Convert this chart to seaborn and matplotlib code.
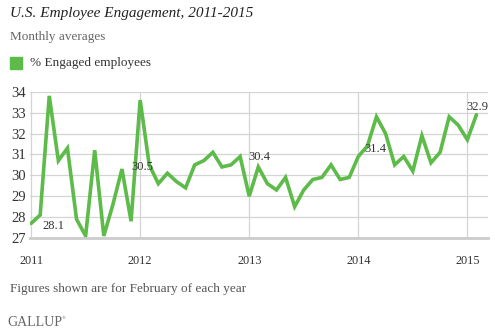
import matplotlib
matplotlib.use("Agg")
import matplotlib.pyplot as plt
import seaborn as sns
import pandas as pd
import numpy as np

years = [2011] * 12 + [2012] * 12 + [2013] * 12 + [2014] * 12 + [2015] * 2
months = list(range(1, 13)) * 4 + [1, 2]
engaged = [27.7, 28.1, 33.8, 30.7, 31.3, 27.9, 27.1, 31.2, 27.1, 28.6, 30.3, 27.8,
           33.6, 30.5, 29.6, 30.1, 29.7, 29.4, 30.5, 30.7, 31.1, 30.4, 30.5, 30.9,
           29.0, 30.4, 29.6, 29.3, 29.9, 28.5, 29.3, 29.8, 29.9, 30.5, 29.8, 29.9,
           30.9, 31.4, 32.8, 32.0, 30.5, 30.9, 30.2, 31.9, 30.6, 31.1, 32.8, 32.4,
           31.7, 32.9]
year_ticks = [2011, 2012, 2013, 2014, 2015]
y_ticks = [27, 28, 29, 30, 31, 32, 33, 34]
labels_idx = [1, 13, 25, 37, 49]

df = pd.DataFrame({"year": years, "month": months, "engaged": engaged})
df["t"] = df["year"] + (df["month"] - 1) / 12.0

sns.set_theme(style="white")
plt.rcParams["font.family"] = ["Liberation Serif", "DejaVu Serif"]

GREEN = "#5dbb4a"
fig = plt.figure(figsize=(4.95, 3.34), dpi=100)
ax = fig.add_axes([0.0606, 0.2874, 0.9254, 0.438])
sns.lineplot(data=df, x="t", y="engaged", ax=ax, color=GREEN, linewidth=2.6,
             solid_joinstyle="miter", legend=False)

ax.set_xlim(2011 - 0.01, 2015.19)
ax.set_ylim(27, 34)
ax.set_xticks(year_ticks)
ax.set_xticklabels([str(y) for y in year_ticks], fontsize=8.8, color="#333333")
ax.set_yticks(y_ticks)
ax.set_yticklabels([str(v) for v in y_ticks], fontsize=10.5, color="#333333")
ax.tick_params(axis="both", length=0)
ax.tick_params(axis="x", pad=12)
ax.tick_params(axis="y", pad=3)
ax.set_xlabel("")
ax.set_ylabel("")
ax.grid(True, color="#d4d4d4", linewidth=0.9)
ax.set_axisbelow(True)
for s in ["top", "right", "left"]:
    ax.spines[s].set_visible(False)
ax.spines["bottom"].set_color("#cccccc")
ax.spines["bottom"].set_linewidth(2)

# point labels
offsets = {1: (2, -11, "left"), 13: (4, -2, "right"), 25: (1, 10, "center"),
           37: (-3, -3, "left"), 49: (1, 8, "center")}
for i in labels_idx:
    dx, dy, ha = offsets[i]
    ax.annotate(f"{engaged[i]:.1f}", (df["t"][i], engaged[i]), xytext=(dx, dy),
                textcoords="offset pixels", ha=ha, va="center", fontsize=9,
                color="#333333")

fig.text(10 / 495, 1 - 13 / 334, "U.S. Employee Engagement, 2011-2015", fontsize=11,
         style="italic", color="#222222", va="center", ha="left")
fig.text(10 / 495, 1 - 37 / 334, "Monthly averages", fontsize=9.5, color="#666666",
         va="center", ha="left")
fig.patches.append(matplotlib.patches.Rectangle((10 / 495, 1 - 69 / 334), 12 / 495, 12 / 334,
                                                transform=fig.transFigure, color=GREEN))
fig.text(30 / 495, 1 - 63 / 334, "% Engaged employees", fontsize=9.5, color="#333333",
         va="center", ha="left")
fig.text(10 / 495, 1 - 289 / 334, "Figures shown are for February of each year",
         fontsize=9.5, color="#555555", va="center", ha="left")
fig.text(7 / 495, 1 - 322 / 334, "GALLUP", fontsize=10, color="#666666",
         va="center", ha="left")
fig.text(62 / 495, 1 - 318 / 334, "\u00ae", fontsize=3.5, color="#666666",
         va="center", ha="left")

fig.savefig("out.png", dpi=100, facecolor="white")
